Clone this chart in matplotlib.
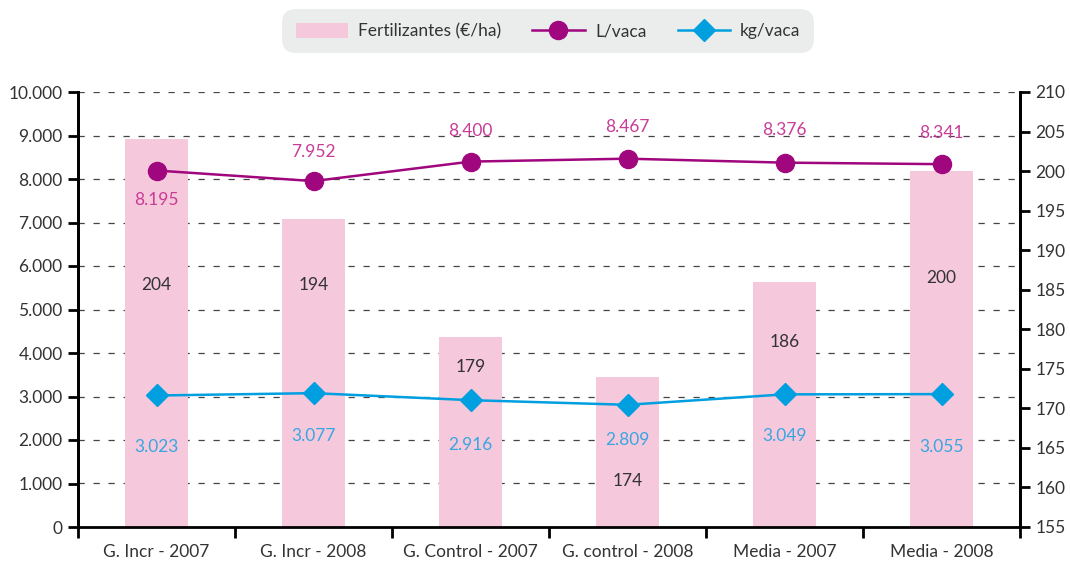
import numpy as np
import matplotlib
matplotlib.use("Agg")
import matplotlib.pyplot as plt
from matplotlib.ticker import FuncFormatter

plt.rcParams["font.family"] = ["Lato", "DejaVu Sans"]

categories = ["G. Incr - 2007", "G. Incr - 2008", "G. Control - 2007",
              "G. control - 2008", "Media - 2007", "Media - 2008"]
fertilizantes = [204, 194, 179, 174, 186, 200]
litros_vaca = [8195, 7952, 8400, 8467, 8376, 8341]
kg_vaca = [3023, 3077, 2916, 2809, 3049, 3055]

# label placement (styling only)
bar_label_y = [185.6, 185.6, 175.2, 160.8, 178.4, 186.5]
l_label_dy = [-29, 29, 31, 32, 33, 31]
kg_label_dy = [-52, -43, -45, -35, -42, -53]

BAR_C = "#f5c8dc"
L_C = "#a0067e"
L_TXT = "#c83c96"
KG_C = "#009fe0"
KG_TXT = "#3aa6e0"
TXT = "#333333"


def es(v):
    return f"{v:,.0f}".replace(",", ".")


fig = plt.figure(figsize=(10.7, 5.61), dpi=100)
ax = fig.add_axes([78 / 1070, 34 / 561, 942 / 1070, 435 / 561])
ax2 = ax.twinx()
# bars behind the lines
ax.set_zorder(2)
ax2.set_zorder(1)
ax.patch.set_visible(False)

x = np.arange(len(categories))
ax2.bar(x, fertilizantes, width=0.395, color=BAR_C, zorder=2,
        label="Fertilizantes (€/ha)")
ax2.set_ylim(155, 210)
ax2.set_yticks(np.arange(155, 211, 5))
for xi, v, yl in zip(x, fertilizantes, bar_label_y):
    ax2.text(xi, yl, str(v), ha="center", va="center", fontsize=12.5,
             color=TXT, zorder=3)

# dashed grid on the primary axis values, drawn on ax2 beneath the bars
for g in np.arange(1000, 10001, 1000):
    yv = 155 + g / 10000 * 55
    ax2.axhline(yv, color="#444444", lw=0.9, ls=(0, (5, 7)), zorder=1)

ax.plot(x, litros_vaca, "-o", color=L_C, lw=1.8, markersize=13,
        label="L/vaca", zorder=4)
ax.plot(x, kg_vaca, "-D", color=KG_C, lw=1.8, markersize=11,
        label="kg/vaca", zorder=4)
for xi, v, dy in zip(x, litros_vaca, l_label_dy):
    ax.annotate(es(v), (xi, v), xytext=(0, dy), textcoords="offset pixels",
                ha="center", va="center", fontsize=12.5, color=L_TXT)
for xi, v, dy in zip(x, kg_vaca, kg_label_dy):
    ax.annotate(es(v), (xi, v), xytext=(0, dy), textcoords="offset pixels",
                ha="center", va="center", fontsize=12.5, color=KG_TXT)

ax.set_ylim(0, 10000)
ax.set_yticks(np.arange(0, 10001, 1000))
ax.yaxis.set_major_formatter(FuncFormatter(lambda v, p: es(v)))
ax.set_xlim(-0.5, len(categories) - 0.5)

# category labels centred, tick marks on boundaries
ax.set_xticks(x)
ax.set_xticklabels(categories, fontsize=12.5, color=TXT)
ax.tick_params(axis="x", which="major", length=0, pad=12)
ax.set_xticks(np.arange(-0.5, len(categories), 1), minor=True)
ax.tick_params(axis="x", which="minor", length=8, width=2, direction="out")

ax.tick_params(axis="y", length=7, width=2, labelsize=12.5,
               labelcolor=TXT, pad=4)
ax2.tick_params(axis="y", length=7, width=2, labelsize=12.5,
                labelcolor=TXT, pad=4)

for a in (ax, ax2):
    a.spines["top"].set_visible(False)
    for s in ("left", "right", "bottom"):
        a.spines[s].set_linewidth(2)
ax2.spines["bottom"].set_visible(False)

h1, l1 = ax2.get_legend_handles_labels()
h2, l2 = ax.get_legend_handles_labels()
leg = fig.legend(h1 + h2, l1 + l2, loc="center",
                 bbox_to_anchor=(548 / 1070, 1 - 31 / 561),
                 ncol=3, frameon=True, fancybox=True, facecolor="#ebecec",
                 edgecolor="none", fontsize=12.5, handlelength=3.0,
                 columnspacing=1.8, borderpad=0.6, handleheight=1.0,
                 handletextpad=0.6)
leg.get_frame().set_boxstyle("round,pad=0.2,rounding_size=0.8")
leg.get_frame().set_alpha(1)
for t in leg.get_texts():
    t.set_color(TXT)

fig.savefig("out.png", dpi=100)
